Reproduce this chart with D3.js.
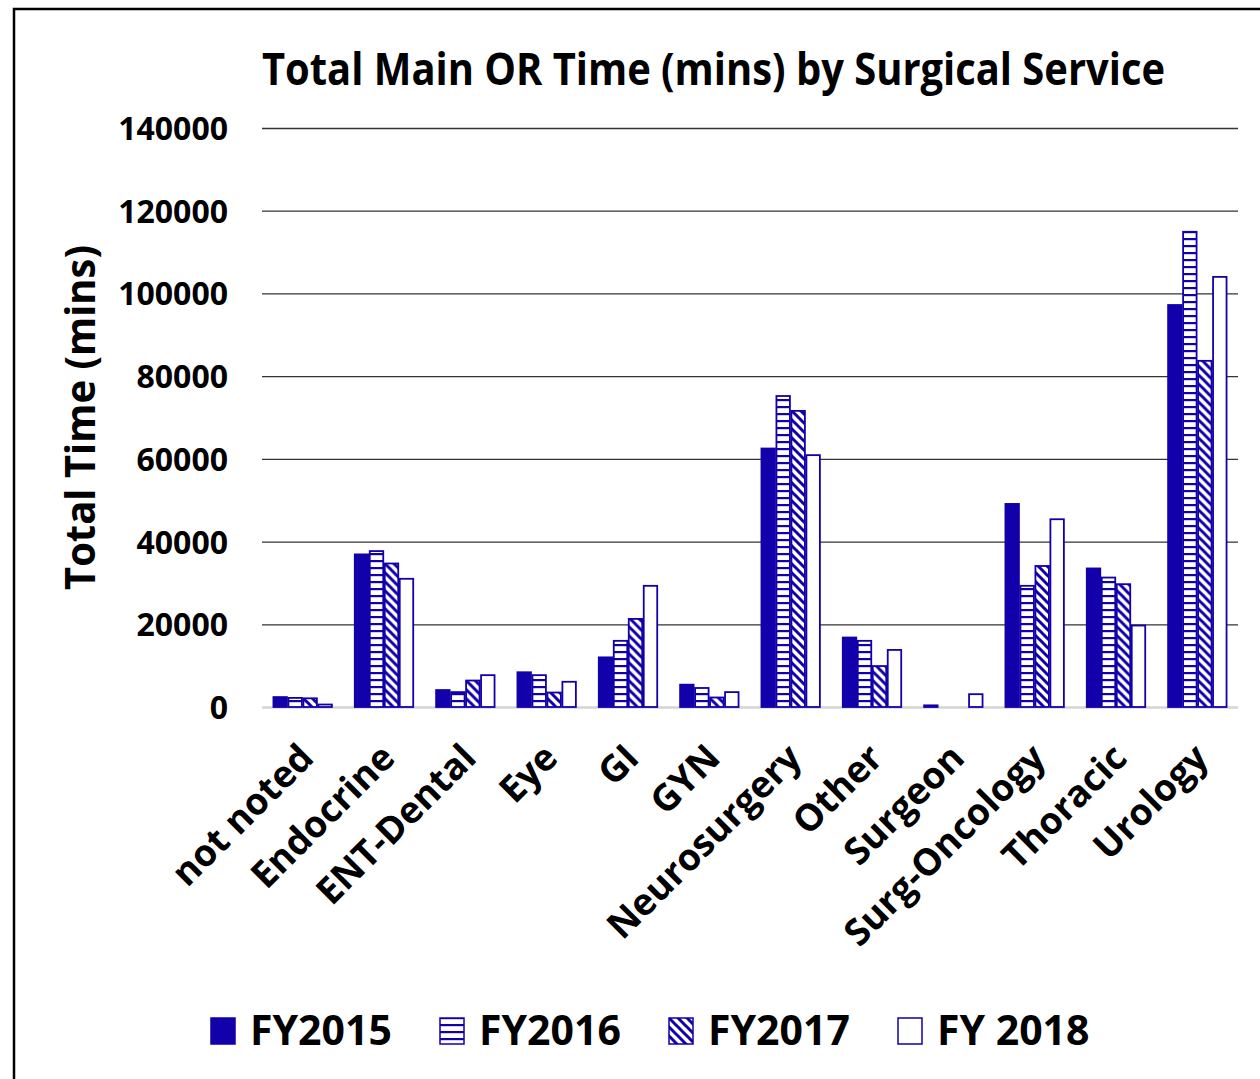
<!DOCTYPE html>
<html lang="en">
<head>
<meta charset="UTF-8">
<title>Total Main OR Time</title>
<script src="https://cdn.jsdelivr.net/npm/d3@7"></script>
<style>
    body { margin: 0; background: #fff; }
    text { font-family: "Open Sans", "Noto Sans", sans-serif; font-weight: bold; fill: #000; }
</style>
</head>
<body>
<script>
    // data
    let categories = ["not noted", "Endocrine", "ENT-Dental", "Eye", "GI", "GYN",
        "Neurosurgery", "Other", "Surgeon", "Surg-Oncology", "Thoracic", "Urology"];
    let seriesNames = ["FY2015", "FY2016", "FY2017", "FY 2018"];
    let fy2015 = [2400, 36900, 4100, 8400, 12000, 5400, 62500, 16800, 400, 49100, 33500, 97200];
    let fy2016 = [2200, 37700, 3600, 7700, 16000, 4600, 75200, 16000, 0, 29300, 31300, 114900];
    let fy2017 = [2100, 34700, 6400, 3500, 21300, 2300, 71600, 9900, 0, 34100, 29700, 83700];
    let fy2018 = [600, 31000, 7700, 6100, 29300, 3600, 60900, 13800, 3100, 45400, 19700, 104000];
    let yTicks = [0, 20000, 40000, 60000, 80000, 100000, 120000, 140000];

    let seriesValues = [fy2015, fy2016, fy2017, fy2018];
    let blue = "#1200aa";
    let width = 1260, height = 1079;

    let svg = d3.select("body").append("svg")
        .attr("width", width)
        .attr("height", height);

    // patterns for the series
    let defs = svg.append("defs");
    let hp = defs.append("pattern").attr("id", "hlines")
        .attr("patternUnits", "userSpaceOnUse")
        .attr("width", 8).attr("height", 7);
    hp.append("rect").attr("width", 8).attr("height", 7).attr("fill", "#fff");
    hp.append("rect").attr("y", 0).attr("width", 8).attr("height", 2.2).attr("fill", blue);

    let dp = defs.append("pattern").attr("id", "dlines")
        .attr("patternUnits", "userSpaceOnUse")
        .attr("width", 9).attr("height", 9);
    dp.append("rect").attr("width", 9).attr("height", 9).attr("fill", "#fff");
    dp.append("path")
        .attr("d", "M0,0 L9,9 M-4.5,4.5 L4.5,13.5 M4.5,-4.5 L13.5,4.5")
        .attr("stroke", blue).attr("stroke-width", 3);

    let fills = [blue, "url(#hlines)", "url(#dlines)", "#fff"];

    // outer frame
    svg.append("rect")
        .attr("x", 14).attr("y", 9)
        .attr("width", 1300).attr("height", 1200)
        .attr("fill", "none")
        .attr("stroke", "#000")
        .attr("stroke-width", 2.5);

    let plotLeft = 262, plotRight = 1238, plotTop = 128, plotBottom = 707;

    let x0 = d3.scaleBand().domain(categories).range([plotLeft, plotRight]);
    let x1 = d3.scaleBand().domain(seriesNames)
        .range([10.7, x0.bandwidth() - 10.7]);
    let y = d3.scaleLinear().domain([0, 140000]).range([plotBottom, plotTop]);

    // grid lines
    let yAxis = d3.axisLeft(y).tickValues(yTicks).tickFormat(d3.format("d"))
        .tickSize(-(plotRight - plotLeft)).tickPadding(34);
    let gy = svg.append("g")
        .attr("transform", "translate(" + plotLeft + ",0)")
        .call(yAxis);
    gy.select(".domain").remove();
    gy.selectAll(".tick line")
        .attr("stroke", d => d === 0 ? "#d4d4d4" : "#333")
        .attr("stroke-width", d => d === 0 ? 2.5 : 1.3);
    gy.selectAll(".tick text")
        .attr("font-size", "32px")
        .attr("font-family", "'Open Sans', sans-serif")
        .attr("font-weight", "bold")
        .attr("fill", "#000")
        .attr("dy", "0.36em");

    // bars
    let groups = svg.append("g").selectAll("g")
        .data(categories)
        .join("g")
        .attr("transform", d => "translate(" + x0(d) + ",0)");

    groups.selectAll("rect")
        .data((c, i) => seriesNames.map((s, j) => ({s: s, j: j, v: seriesValues[j][i]})).filter(d => d.v > 0))
        .join("rect")
        .attr("x", d => x1(d.s) + 0.75)
        .attr("width", x1.bandwidth() - 1.5)
        .attr("y", d => y(d.v))
        .attr("height", d => y(0) - y(d.v))
        .attr("fill", d => fills[d.j])
        .attr("stroke", blue)
        .attr("stroke-width", 1.8);

    // category labels
    svg.append("g").selectAll("text")
        .data(categories)
        .join("text")
        .text(d => d)
        .attr("transform", d => "translate(" + (x0(d) + x0.bandwidth() / 2 + 13) + ",760) rotate(-45)")
        .attr("text-anchor", "end")
        .attr("font-size", "37px");

    // title
    svg.append("text")
        .text("Total Main OR Time (mins) by Surgical Service")
        .attr("x", 262).attr("y", 85)
        .attr("font-size", "44px")
        .attr("textLength", 903)
        .attr("lengthAdjust", "spacingAndGlyphs");

    // y axis title
    svg.append("text")
        .text("Total Time (mins)")
        .attr("transform", "translate(95,590) rotate(-90)")
        .attr("font-size", "41px")
        .attr("textLength", 345)
        .attr("lengthAdjust", "spacingAndGlyphs");

    // legend
    let legendX = [210, 439, 668, 897];
    let legend = svg.append("g").selectAll("g")
        .data(seriesNames)
        .join("g")
        .attr("transform", (d, i) => "translate(" + legendX[i] + ",1017)");
    legend.append("rect")
        .attr("x", 1).attr("y", 1)
        .attr("width", 24).attr("height", 26)
        .attr("fill", (d, i) => fills[i])
        .attr("stroke", blue)
        .attr("stroke-width", 1.5);
    legend.append("text")
        .text(d => d)
        .attr("x", 40).attr("y", 28)
        .attr("font-size", "41px");
</script>
</body>
</html>
